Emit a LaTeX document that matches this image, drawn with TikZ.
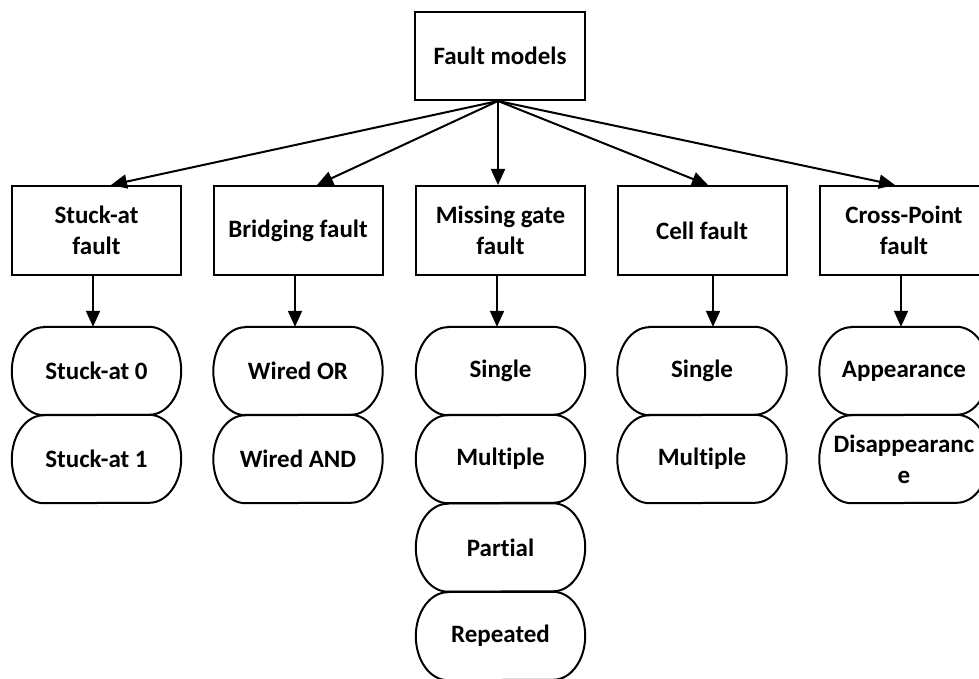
\documentclass[tikz,border=0pt]{standalone}
\usepackage{fontspec}
\setmainfont{Carlito}[Ligatures={NoCommon,NoRare,NoContextual},Contextuals=NoAlternate]
\usetikzlibrary{arrows.meta}
\tikzset{
  txt/.style={align=center, inner sep=0pt, font=\bfseries\fontsize{25}{31}\selectfont},
  box/.style={txt, draw, line width=2pt, minimum width=169pt, minimum height=89pt},
  stad/.style={txt, minimum width=169pt, minimum height=88pt},
  arr/.style={line width=2pt, -{Triangle[length=16pt,width=14pt]}},
}
% outline of a terminator shape with elliptical ends
\newcommand\stadline[1]{%
  \draw[line width=2pt] ([xshift=32pt]#1.north west) -- ([xshift=-32pt]#1.north east)
    arc[start angle=90,end angle=-90,x radius=32pt,y radius=44pt]
    -- ([xshift=32pt]#1.south west)
    arc[start angle=270,end angle=90,x radius=32pt,y radius=44pt] -- cycle;}
\begin{document}
\begin{tikzpicture}[x=1pt,y=1pt]
\useasboundingbox (0,0) rectangle (979,678);
\clip (0,0) rectangle (979,678);

% root
\node[box, minimum width=170pt, minimum height=88pt] (root) at (500,622) {Fault models};

% categories
\node[box] (b1) at (96.5,447.5) {Stuck-at\\fault};
\node[box] (b2) at (298,447.5) {Bridging fault};
\node[box] (b3) at (500.5,447.5) {Missing gate\\fault};
\node[box] (b4) at (702,447.5) {Cell fault};
\node[box] (b5) at (904,447.5) {Cross-Point\\fault};

% sub-types
\node[stad] (s11) at (96.5,307) {Stuck-at 0};
\node[stad] (s12) at (96.5,219) {Stuck-at 1};
\node[stad] (s21) at (298,307) {Wired OR};
\node[stad] (s22) at (298,219) {Wired AND};
\node[stad] (s31) at (500.5,307) {Single};
\node[stad] (s32) at (500.5,219) {Multiple};
\node[stad] (s33) at (500.5,130.5) {Partial};
\node[stad] (s34) at (500.5,42) {Repeated};
\node[stad] (s41) at (702,307) {Single};
\node[stad] (s42) at (702,219) {Multiple};
\node[stad] (s51) at (904,307) {Appearance};
\node[stad] (s52) at (904,219) {Disappearanc\\e};

\foreach \n in {s11,s12,s21,s22,s31,s32,s33,s34,s41,s42,s51,s52} {\stadline{\n}}

% root to categories
\coordinate (o) at ([xshift=-2pt]root.south);
\draw[arr] (o) -- ([xshift=14.5pt]b1.north);
\draw[arr] (o) -- ([xshift=19pt]b2.north);
\draw[arr] (o) -- ([xshift=-2.5pt]b3.north);
\draw[arr] (o) -- ([xshift=6pt]b4.north);
\draw[arr] (o) -- ([xshift=-9pt]b5.north);

% categories to first sub-type
\draw[arr] ([xshift=-3.5pt]b1.south) -- ([xshift=-3.5pt]s11.north);
\draw[arr] ([xshift=-3pt]b2.south) -- ([xshift=-3pt]s21.north);
\draw[arr] ([xshift=-3.5pt]b3.south) -- ([xshift=-3.5pt]s31.north);
\draw[arr] ([xshift=11pt]b4.south) -- ([xshift=11pt]s41.north);
\draw[arr] ([xshift=-3pt]b5.south) -- ([xshift=-3pt]s51.north);
\end{tikzpicture}
\end{document}
